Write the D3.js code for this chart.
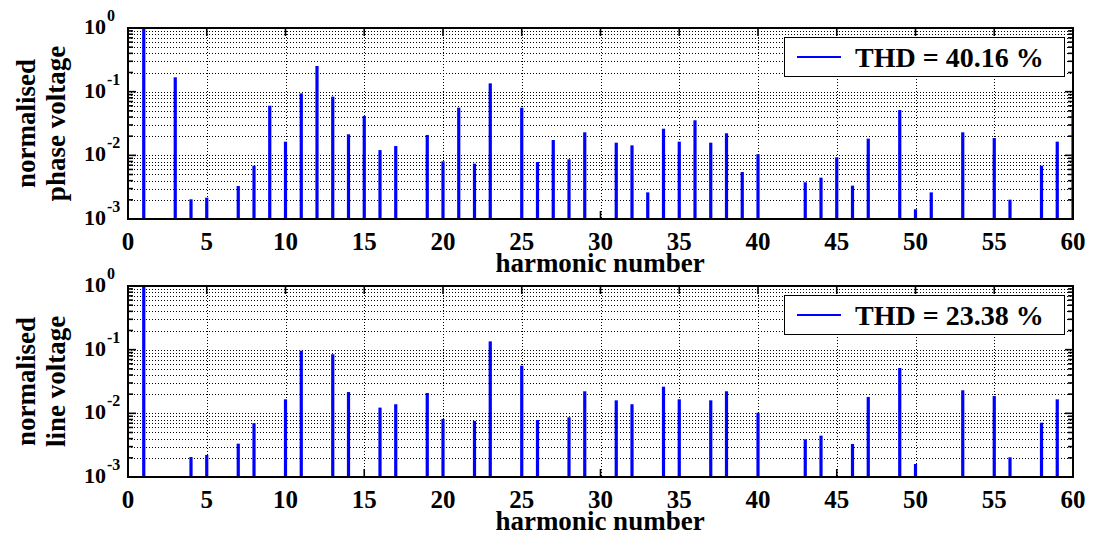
<!DOCTYPE html>
<html>
<head>
<meta charset="utf-8">
<script src="https://cdn.jsdelivr.net/npm/d3@7"></script>
<style>
  body { margin: 0; background: #fff; }
  svg text { font-family: "Liberation Serif", "Times New Roman", serif; font-weight: bold; fill: #000; }
</style>
</head>
<body>
<svg id="chart" width="1093" height="535"></svg>
<script>
// harmonic spectra
const phaseHarmonics = [1, 3, 4, 5, 7, 8, 9, 10, 11, 12, 13, 14, 15, 16, 17, 19, 20, 21, 22, 23, 25, 26, 27, 28, 29,
  31, 32, 33, 34, 35, 36, 37, 38, 39, 40, 43, 44, 45, 46, 47, 49, 50, 51, 53, 55, 56, 58, 59, 60];
const phaseValues = [1, 0.168, 0.00204, 0.00216, 0.0033, 0.00687, 0.0602, 0.0164, 0.094, 0.253, 0.0834, 0.0214, 0.0415,
  0.0121, 0.014, 0.0209, 0.00806, 0.056, 0.0074, 0.135, 0.056, 0.00786, 0.0174, 0.00866, 0.023,
  0.0158, 0.01435, 0.00262, 0.0262, 0.0164, 0.0355, 0.0158, 0.0222, 0.00547, 0.0104, 0.00377, 0.00446, 0.0093,
  0.00334, 0.0183, 0.0515, 0.00142, 0.00262, 0.023, 0.0187, 0.00201, 0.00687, 0.0164, 0.0485];

const lineHarmonics = [1, 4, 5, 7, 8, 10, 11, 13, 14, 16, 17, 19, 20, 22, 23, 25, 26, 28, 29, 31, 32, 34, 35, 37, 38,
  40, 43, 44, 46, 47, 49, 50, 53, 55, 56, 58, 59];
const lineValues = [1, 0.00206, 0.00222, 0.00334, 0.007, 0.0166, 0.0964, 0.0846, 0.0216, 0.0123, 0.0139, 0.0209,
  0.00815, 0.0076, 0.135, 0.056, 0.00786, 0.00866, 0.0222, 0.016, 0.0139, 0.0262, 0.0166, 0.016, 0.0222,
  0.0102, 0.0039, 0.00446, 0.0033, 0.0181, 0.0515, 0.0016, 0.023, 0.0187, 0.00204, 0.00713, 0.0166];

const xTicks = [0, 5, 10, 15, 20, 25, 30, 35, 40, 45, 50, 55, 60];
const yTickExps = [0, -1, -2, -3];
const thdLabels = ["THD = 40.16 %", "THD = 23.38 %"];
const yLabels = [["normalised", "phase voltage"], ["normalised", "line voltage"]];
const xLabel = "harmonic number";

const svg = d3.select("#chart");
svg.append("rect").attr("width", 1093).attr("height", 535).attr("fill", "#fff");

const left = 128, right = 1073, plotH = 191;
const panelTops = [28, 286];

const x = d3.scaleLinear().domain([0, 60]).range([left, right]);
const y = d3.scaleLog().domain([1e-3, 1]).range([plotH, 0]);

function drawPanel(i, harmonics, values) {
  const g = svg.append("g").attr("transform", `translate(0,${panelTops[i]})`);

  g.append("clipPath").attr("id", "clip" + i)
    .append("rect").attr("x", left).attr("y", 0).attr("width", right - left).attr("height", plotH);

  // grid: all minor + major decades horizontally, major x ticks vertically
  const yGrid = y.ticks();
  g.append("g").selectAll("line").data(yGrid).join("line")
    .attr("x1", left).attr("x2", right)
    .attr("y1", d => Math.round(y(d)) + 0.5).attr("y2", d => Math.round(y(d)) + 0.5)
    .attr("stroke", "#000").attr("stroke-width", 1).attr("stroke-dasharray", "1,2");
  g.append("g").selectAll("line").data(xTicks.slice(1, -1)).join("line")
    .attr("x1", d => Math.round(x(d)) + 0.5).attr("x2", d => Math.round(x(d)) + 0.5)
    .attr("y1", 0).attr("y2", plotH)
    .attr("stroke", "#000").attr("stroke-width", 1).attr("stroke-dasharray", "1,2");

  // inward ticks
  const ticks = g.append("g").attr("stroke", "#000").attr("stroke-width", 1.6);
  xTicks.forEach(t => {
    ticks.append("line").attr("x1", x(t)).attr("x2", x(t)).attr("y1", plotH).attr("y2", plotH - 8);
    ticks.append("line").attr("x1", x(t)).attr("x2", x(t)).attr("y1", 0).attr("y2", 8);
  });
  yGrid.forEach(t => {
    const major = Math.abs(Math.log10(t) - Math.round(Math.log10(t))) < 1e-9;
    const len = major ? 8 : 5;
    ticks.append("line").attr("x1", left).attr("x2", left + len).attr("y1", y(t)).attr("y2", y(t));
    ticks.append("line").attr("x1", right).attr("x2", right - len).attr("y1", y(t)).attr("y2", y(t));
  });

  // bars
  g.append("g").attr("clip-path", `url(#clip${i})`)
    .selectAll("rect").data(harmonics).join("rect")
    .attr("x", d => x(d) - 1.6)
    .attr("width", 3.2)
    .attr("y", (d, j) => y(values[j]))
    .attr("height", (d, j) => plotH - y(values[j]))
    .attr("fill", "#0000ff");

  // legend
  const lg = g.append("g");
  lg.append("rect").attr("x", 784.5).attr("y", 9.5).attr("width", 280).attr("height", 39)
    .attr("fill", "#fff").attr("stroke", "#000").attr("stroke-width", 1);
  lg.append("line").attr("x1", 797).attr("x2", 841).attr("y1", 29).attr("y2", 29)
    .attr("stroke", "#0000ff").attr("stroke-width", 2);
  lg.append("text").attr("x", 855).attr("y", 39).attr("font-size", 28).text(thdLabels[i]);

  // frame
  g.append("rect").attr("x", left).attr("y", 0).attr("width", right - left).attr("height", plotH)
    .attr("fill", "none").attr("stroke", "#000").attr("stroke-width", 2);

  // x tick labels
  g.append("g").selectAll("text").data(xTicks).join("text")
    .attr("x", d => x(d)).attr("y", plotH + 31)
    .attr("text-anchor", "middle").attr("font-size", 25)
    .text(d => d);
  g.append("text").attr("x", 600).attr("y", plotH + 53)
    .attr("text-anchor", "middle").attr("font-size", 27).text(xLabel);

  // y tick labels 10^k
  yTickExps.forEach(e => {
    const ty = y(Math.pow(10, e));
    g.append("text").attr("x", 106).attr("y", ty + 6)
      .attr("text-anchor", "end").attr("font-size", 22).text("10");
    g.append("text").attr("x", 107).attr("y", ty - 7)
      .attr("font-size", 16).text(e === 0 ? "0" : "-" + Math.abs(e));
  });

  // y label, two lines
  const cy = plotH / 2;
  yLabels[i].forEach((s, k) => {
    const bx = k === 0 ? 35 : 65;
    g.append("text").attr("transform", `translate(${bx},${cy}) rotate(-90)`)
      .attr("text-anchor", "middle").attr("font-size", 27).text(s);
  });
}

drawPanel(0, phaseHarmonics, phaseValues);
drawPanel(1, lineHarmonics, lineValues);
</script>
</body>
</html>
